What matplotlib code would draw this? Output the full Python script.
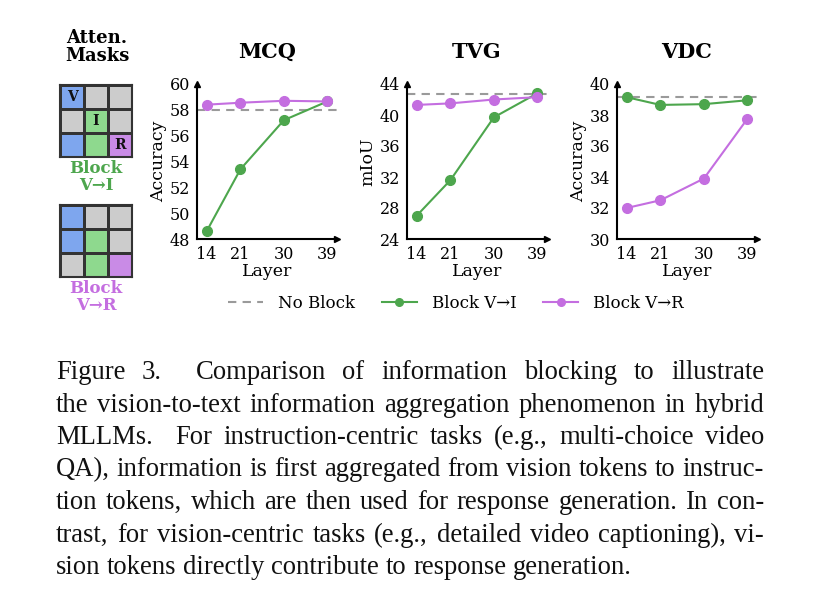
import numpy as np
import matplotlib
matplotlib.use('Agg')
import matplotlib.pyplot as plt
from matplotlib.colors import ListedColormap
from matplotlib.lines import Line2D

plt.rcParams['font.family'] = 'DejaVu Serif'

# Data
layers = [14, 21, 30, 39]
panel_titles = ['MCQ', 'TVG', 'VDC']
panel_ylabels = ['Accuracy', 'mIoU', 'Accuracy']
no_block = [58.0, 42.7, 39.15]
block_vi = [[48.6, 53.4, 57.2, 58.65],
            [27.0, 31.6, 39.7, 42.8],
            [39.15, 38.65, 38.7, 38.95]]
block_vr = [[58.4, 58.55, 58.7, 58.65],
            [41.3, 41.5, 42.0, 42.3],
            [32.0, 32.5, 33.9, 37.75]]
y_ranges = [(48, 60, 2), (24, 44, 4), (30, 40, 2)]

# Masken: 0 = grijs, 1 = blauw (V), 2 = groen (I), 3 = paars (R)
mask_vi = [[1, 0, 0],
           [0, 2, 0],
           [1, 2, 3]]
mask_vr = [[1, 0, 0],
           [1, 2, 0],
           [0, 2, 3]]
mask_cell_labels = [(0, 0, 'V'), (1, 1, 'I'), (2, 2, 'R')]

caption_lines = [
    'Figure 3.  Comparison of information blocking to illustrate',
    'the vision-to-text information aggregation phenomenon in hybrid',
    'MLLMs.  For instruction-centric tasks (e.g., multi-choice video',
    'QA), information is first aggregated from vision tokens to instruc-',
    'tion tokens, which are then used for response generation. In con-',
    'trast, for vision-centric tasks (e.g., detailed video captioning), vi-',
    'sion tokens directly contribute to response generation.',
]

# Kleuren
green = '#4da64d'
purple = '#c46ee0'
grey_dash = '#9a9a9a'
mask_cmap = ListedColormap(['#cccccc', '#7ea6ee', '#8ed98e', '#c98be6'])

W, H = 822, 613
fig = plt.figure(figsize=(W / 100, H / 100), dpi=100)


def fx(px):
    return px / W


def fy(py):
    return 1 - py / H


# Grafieken
for i in range(3):
    left = 197 + 210 * i
    ax = fig.add_axes([fx(left), fy(239), 140 / W, 155 / H])
    ax.axhline(no_block[i], color=grey_dash, lw=1.5, dashes=(4, 3))
    ax.plot(layers, block_vi[i], color=green, lw=1.5, marker='o', ms=7)
    ax.plot(layers, block_vr[i], color=purple, lw=1.5, marker='o', ms=7)
    lo, hi, st = y_ranges[i]
    ax.set_ylim(lo, hi)
    ax.set_yticks(np.arange(lo, hi + 0.1, st))
    ax.set_xlim(12, 41)
    ax.set_xticks(layers)
    ax.tick_params(length=0, pad=5, labelsize=11.5)
    for s in ['top', 'right']:
        ax.spines[s].set_visible(False)
    for s in ['left', 'bottom']:
        ax.spines[s].set_linewidth(1.5)
    ax.plot(1, 0, '>k', ms=5, transform=ax.transAxes, clip_on=False)
    ax.plot(0, 1, '^k', ms=5, transform=ax.transAxes, clip_on=False)
    ax.set_title(panel_titles[i], fontsize=15, fontweight='bold', pad=19)
    ax.set_ylabel(panel_ylabels[i], fontsize=12.5, labelpad=2)
    ax.set_xlabel('Layer', fontsize=12.5, labelpad=0)

# Legenda
handles = [
    Line2D([], [], color=grey_dash, lw=1.5, dashes=(4, 3)),
    Line2D([], [], color=green, lw=1.5, marker='o', ms=5.5),
    Line2D([], [], color=purple, lw=1.5, marker='o', ms=5.5),
]
fig.legend(handles, ['No Block', 'Block V→I', 'Block V→R'], ncol=3,
           frameon=False, loc='center', bbox_to_anchor=(fx(456), fy(303)),
           fontsize=12, handlelength=2.1, handletextpad=0.9, columnspacing=1.6)

# Attention-maskers
fig.text(fx(97), fy(47), 'Atten.\nMasks', ha='center', va='center',
         fontsize=13, fontweight='bold', linespacing=1.0)
for mask, top, label, col, with_labels in [
        (mask_vi, 85, 'Block\nV→I', green, True),
        (mask_vr, 205, 'Block\nV→R', purple, False)]:
    mx = fig.add_axes([fx(60), fy(top + 72), 72 / W, 72 / H])
    mx.pcolormesh(np.array(mask), cmap=mask_cmap, vmin=-0.5, vmax=3.5,
                  edgecolors='#333333', linewidth=1.0)
    mx.set_xlim(0, 3)
    mx.set_ylim(3, 0)
    mx.set_xticks([])
    mx.set_yticks([])
    for s in mx.spines.values():
        s.set_linewidth(1.5)
        s.set_color('#333333')
    if with_labels:
        for r, c, t in mask_cell_labels:
            mx.text(c + 0.5, r + 0.5, t, ha='center', va='center',
                    fontsize=10, fontweight='bold', color='#111111')
    fig.text(fx(96), fy(top + 92), label, ha='center', va='center',
             fontsize=12, fontweight='bold', color=col, linespacing=1.05)

# Bijschrift (uitgevuld)
renderer = fig.canvas.get_renderer()
cap_size = 19.2
cap_font = dict(fontsize=cap_size, family='Liberation Serif', color='#111111')
x_left, x_right = 56, 764
baseline0, line_step = 379, 32.5
space_px = 0.25 * cap_size * 100 / 72

for n, line in enumerate(caption_lines):
    y = fy(baseline0 + n * line_step)
    words = line.split()
    texts = [fig.text(0, y, w, va='baseline', ha='left', **cap_font) for w in words]
    widths = [t.get_window_extent(renderer).width for t in texts]
    weights = [2.0 if w in ('3.', 'MLLMs.') else 1.0 for w in words[:-1]]
    if n < len(caption_lines) - 1:
        gap = (x_right - x_left - sum(widths)) / sum(weights)
    else:
        gap = space_px
    x = x_left
    for t, wd, k in zip(texts, widths, weights + [0]):
        t.set_x(fx(x))
        x += wd + gap * k

fig.savefig('out.png', dpi=100)
